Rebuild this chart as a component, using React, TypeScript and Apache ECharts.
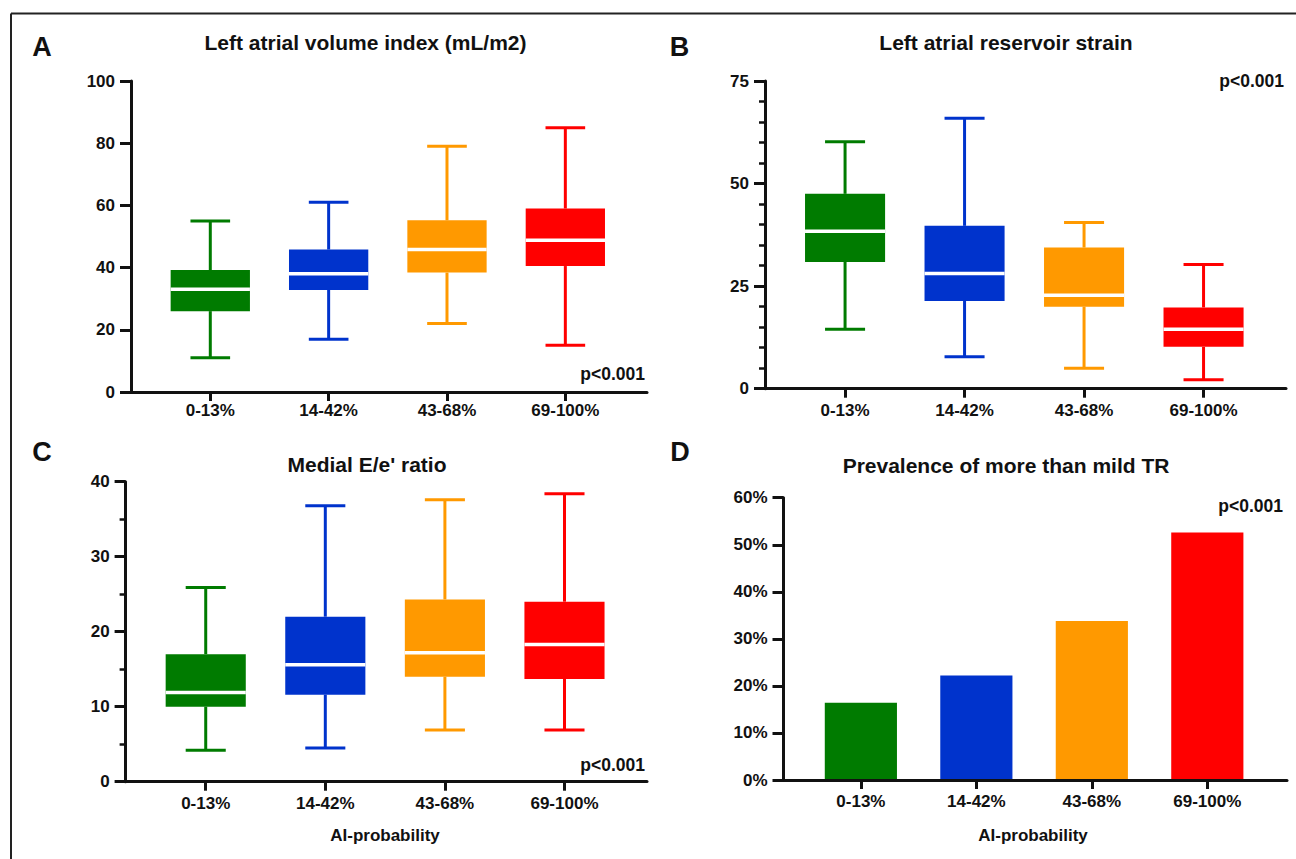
import React, { useEffect, useRef } from 'react';
import * as echarts from 'echarts';

const categories = ['0-13%', '14-42%', '43-68%', '69-100%'];
const groupColors = ['#007B00', '#0033CC', '#FF9900', '#FF0000'];

// box statistics per group: [min, Q1, median, Q3, max]
const laviStats = [
  [11, 26, 33, 39.2, 55],
  [17, 32.8, 38, 45.8, 61],
  [22, 38.4, 45.8, 55.2, 79],
  [15, 40.5, 48.8, 59, 85],
];
const larsStats = [
  [14.5, 30.9, 38.4, 47.5, 60.2],
  [7.8, 21.4, 28.1, 39.7, 65.9],
  [5.0, 20.0, 22.8, 34.4, 40.5],
  [2.2, 10.2, 14.5, 19.8, 30.3],
];
const eeStats = [
  [4.2, 10.0, 11.9, 17.0, 25.9],
  [4.5, 11.6, 15.6, 22.0, 36.8],
  [6.9, 14.0, 17.2, 24.3, 37.6],
  [6.9, 13.7, 18.3, 24.0, 38.4],
];
const trPrevalence = [16.4, 22.2, 33.8, 52.6];

const panelTitles = [
  'Left atrial volume index (mL/m2)',
  'Left atrial reservoir strain',
  "Medial E/e' ratio",
  'Prevalence of more than mild TR',
];
const panelLetters = ['A', 'B', 'C', 'D'];
const pValueText = 'p<0.001';
const xAxisTitle = 'AI-probability';

const FONT = '"Liberation Sans", Arial, Helvetica, sans-serif';
const INK = '#111111';
const X_MIN = -0.67;
const X_MAX = 3.69;
const BOX_W = 0.67;
const CAP_W = 0.335;
const BAR_W = 0.625;

function renderBox(params: any, api: any) {
  const x = api.value(0);
  const pMin = api.coord([x, api.value(1)]);
  const pQ1 = api.coord([x, api.value(2)]);
  const pMed = api.coord([x, api.value(3)]);
  const pQ3 = api.coord([x, api.value(4)]);
  const pMax = api.coord([x, api.value(5)]);
  const half = api.size([BOX_W, 0])[0] / 2;
  const capHalf = api.size([CAP_W, 0])[0] / 2;
  const cx = pMin[0];
  const color = groupColors[params.dataIndex];
  const ls = { stroke: color, lineWidth: 3 };
  return {
    type: 'group',
    children: [
      { type: 'line', shape: { x1: cx, y1: pQ1[1], x2: cx, y2: pMin[1] }, style: ls },
      { type: 'line', shape: { x1: cx, y1: pQ3[1], x2: cx, y2: pMax[1] }, style: ls },
      { type: 'line', shape: { x1: cx - capHalf, y1: pMin[1], x2: cx + capHalf, y2: pMin[1] }, style: ls },
      { type: 'line', shape: { x1: cx - capHalf, y1: pMax[1], x2: cx + capHalf, y2: pMax[1] }, style: ls },
      {
        type: 'rect',
        shape: { x: cx - half, y: pQ3[1], width: half * 2, height: pQ1[1] - pQ3[1] },
        style: { fill: color },
      },
      {
        type: 'line',
        shape: { x1: cx - half, y1: pMed[1], x2: cx + half, y2: pMed[1] },
        style: { stroke: '#ffffff', lineWidth: 3.5 },
      },
    ],
  };
}

function renderBar(params: any, api: any) {
  const x = api.value(0);
  const tl = api.coord([x - BAR_W / 2, api.value(1)]);
  const br = api.coord([x + BAR_W / 2, 0]);
  return {
    type: 'rect',
    shape: { x: tl[0], y: tl[1], width: br[0] - tl[0], height: br[1] - tl[1] },
    style: { fill: groupColors[params.dataIndex] },
  };
}

function xAxisFor(gridIndex: number, margin: number) {
  return {
    type: 'value',
    gridIndex,
    min: X_MIN,
    max: X_MAX,
    z: 5,
    splitLine: { show: false },
    axisLine: { show: true, onZero: false, lineStyle: { color: INK, width: 3 } },
    axisTick: { show: true, length: 9, lineStyle: { color: INK, width: 3 }, customValues: [0, 1, 2, 3] },
    axisLabel: {
      show: true,
      customValues: [0, 1, 2, 3],
      formatter: (v: number) => categories[Math.round(v)] ?? '',
      margin,
      color: INK,
      fontSize: 17,
      fontWeight: 'bold',
      fontFamily: FONT,
    },
  };
}

function yAxisFor(gridIndex: number, min: number, max: number, interval: number, minorSplit: number, fmt?: any) {
  return {
    type: 'value',
    gridIndex,
    min,
    max,
    interval,
    z: 5,
    splitLine: { show: false },
    minorSplitLine: { show: false },
    axisLine: { show: true, onZero: false, lineStyle: { color: INK, width: 3 } },
    axisTick: { show: true, length: 11, lineStyle: { color: INK, width: 3 } },
    minorTick: { show: minorSplit > 0, splitNumber: minorSplit || 5, length: 6, lineStyle: { color: INK, width: 2.5 } },
    axisLabel: {
      margin: 16,
      color: INK,
      fontSize: 17,
      fontWeight: 'bold',
      fontFamily: FONT,
      formatter: fmt,
    },
  };
}

function txt(text: string, x: number, y: number, size: number, align: string) {
  return {
    type: 'text',
    x,
    y,
    z: 10,
    style: {
      text,
      fill: INK,
      font: `bold ${size}px ${FONT}`,
      textAlign: align,
      textVerticalAlign: 'middle',
    },
  };
}

export default function App() {
  const ref = useRef<HTMLDivElement>(null);
  useEffect(() => {
    if (!ref.current) return;
    const chart = echarts.init(ref.current, null, { renderer: 'svg' });
    const option: any = {
      animation: false,
      backgroundColor: '#ffffff',
      textStyle: { fontFamily: FONT },
      grid: [
        { left: 131, top: 81, width: 516, height: 311 },
        { left: 765, top: 81, width: 521, height: 307.7 },
        { left: 125.6, top: 481.7, width: 521.4, height: 300 },
        { left: 783.5, top: 497.7, width: 503.5, height: 282.3 },
      ],
      xAxis: [xAxisFor(0, 10), xAxisFor(1, 13), xAxisFor(2, 13), xAxisFor(3, 13)],
      yAxis: [
        yAxisFor(0, 0, 100, 20, 0),
        yAxisFor(1, 0, 75, 25, 5),
        yAxisFor(2, 0, 40, 10, 2),
        yAxisFor(3, 0, 60, 10, 0, '{value}%'),
      ],
      series: [
        {
          type: 'custom', xAxisIndex: 0, yAxisIndex: 0, z: 2, silent: true,
          data: laviStats.map((s, k) => [k, ...s]), encode: { x: 0, y: [1, 2, 3, 4, 5] }, renderItem: renderBox,
        },
        {
          type: 'custom', xAxisIndex: 1, yAxisIndex: 1, z: 2, silent: true,
          data: larsStats.map((s, k) => [k, ...s]), encode: { x: 0, y: [1, 2, 3, 4, 5] }, renderItem: renderBox,
        },
        {
          type: 'custom', xAxisIndex: 2, yAxisIndex: 2, z: 2, silent: true,
          data: eeStats.map((s, k) => [k, ...s]), encode: { x: 0, y: [1, 2, 3, 4, 5] }, renderItem: renderBox,
        },
        {
          type: 'custom', xAxisIndex: 3, yAxisIndex: 3, z: 2, silent: true,
          data: trPrevalence.map((v, k) => [k, v]), encode: { x: 0, y: 1 }, renderItem: renderBar,
        },
      ],
      graphic: [
        { type: 'line', shape: { x1: 11, y1: 13.5, x2: 1296, y2: 13.5 }, style: { stroke: '#222', lineWidth: 2 } },
        { type: 'line', shape: { x1: 11, y1: 13.5, x2: 11, y2: 859 }, style: { stroke: '#222', lineWidth: 2 } },
        txt(panelLetters[0], 42, 46.5, 27, 'center'),
        txt(panelLetters[1], 679.5, 47, 27, 'center'),
        txt(panelLetters[2], 42, 452, 27, 'center'),
        txt(panelLetters[3], 680, 452, 27, 'center'),
        txt(panelTitles[0], 365.5, 42, 21, 'center'),
        txt(panelTitles[1], 1006, 42, 21, 'center'),
        txt(panelTitles[2], 367, 464.5, 21, 'center'),
        txt(panelTitles[3], 1006, 465.5, 21, 'center'),
        txt(pValueText, 645, 374, 17.5, 'right'),
        txt(pValueText, 1284, 81, 17.5, 'right'),
        txt(pValueText, 645, 764.5, 17.5, 'right'),
        txt(pValueText, 1283, 506, 17.5, 'right'),
        txt(xAxisTitle, 385, 835, 17, 'center'),
        txt(xAxisTitle, 1033, 835, 17, 'center'),
      ],
    };
    chart.setOption(option);
    return () => chart.dispose();
  }, []);
  return <div ref={ref} style={{ position: 'fixed', left: 0, top: 0, width: 1296, height: 859 }} />;
}
